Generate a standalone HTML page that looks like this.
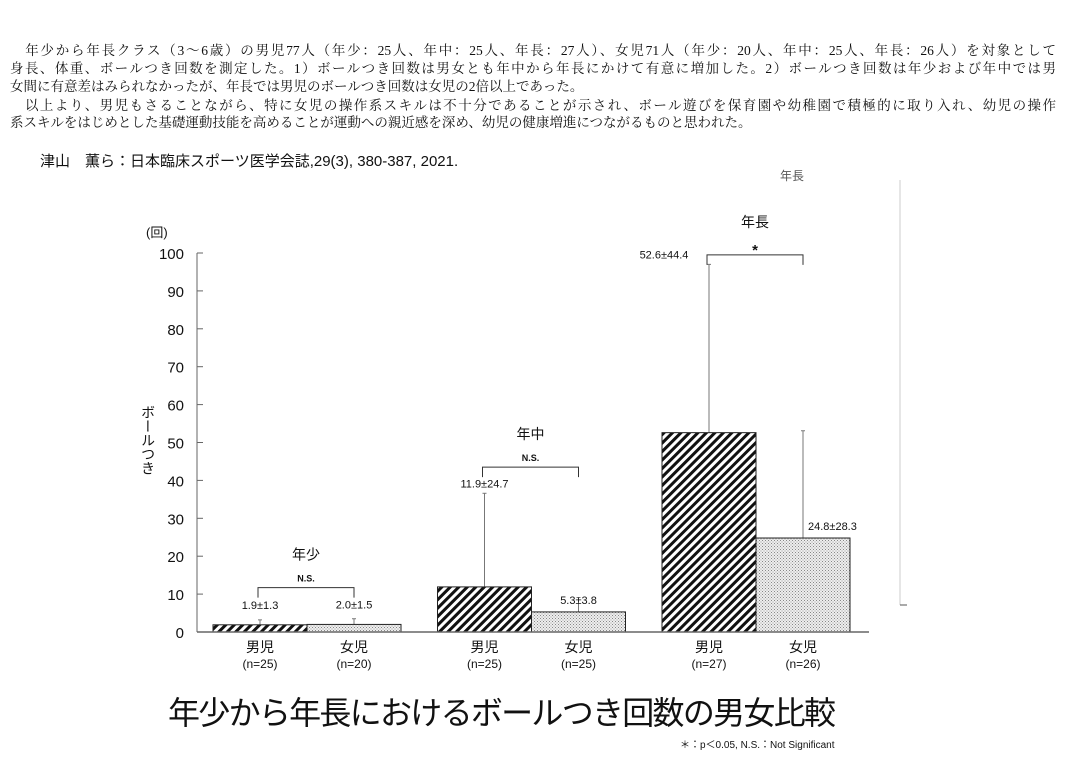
<!DOCTYPE html>
<html><head><meta charset="utf-8">
<style>
body{margin:0;width:1065px;height:759px;background:#fff;overflow:hidden;position:relative;font-family:"Liberation Sans","Noto Sans CJK JP",sans-serif;}
.p{position:absolute;left:10px;width:1046px;font-family:"Liberation Serif","Noto Serif CJK SC",serif;font-size:13.5px;line-height:17px;color:#111;white-space:nowrap;}
.j{text-align:justify;text-align-last:justify;white-space:normal;}
</style></head><body>
<div class="p j" style="top:42px">　年少から年長クラス（3～6歳）の男児77人（年少：25人、年中：25人、年長：27人）、女児71人（年少：20人、年中：25人、年長：26人）を対象として</div>
<div class="p j" style="top:60px">身長、体重、ボールつき回数を測定した。1）ボールつき回数は男女とも年中から年長にかけて有意に増加した。2）ボールつき回数は年少および年中では男</div>
<div class="p" style="top:78px">女間に有意差はみられなかったが、年長では男児のボールつき回数は女児の2倍以上であった。</div>
<div class="p j" style="top:97px">　以上より、男児もさることながら、特に女児の操作系スキルは不十分であることが示され、ボール遊びを保育園や幼稚園で積極的に取り入れ、幼児の操作</div>
<div class="p" style="top:114px">系スキルをはじめとした基礎運動技能を高めることが運動への親近感を深め、幼児の健康増進につながるものと思われた。</div>
<div style="position:absolute;left:40px;top:150px;font-size:15px;color:#111;">津山　薫ら：日本臨床スポーツ医学会誌,29(3), 380-387, 2021.</div>

<svg id="chart" width="1065" height="759" style="position:absolute;left:0;top:0">
<defs>
<pattern id="hatch" width="6" height="6" patternUnits="userSpaceOnUse" patternTransform="rotate(45)">
<rect width="6" height="6" fill="#fff"/><rect width="3" height="6" fill="#111"/></pattern>
<pattern id="dots" width="3" height="3" patternUnits="userSpaceOnUse">
<rect width="3" height="3" fill="#eee"/><rect width="1" height="1" fill="#888"/><rect x="1.5" y="1.5" width="1" height="1" fill="#999"/></pattern>
</defs>
<g id="g"></g>
<text x="780" y="180" font-size="12" fill="#555">年長</text>
<line x1="900" y1="180" x2="900" y2="605" stroke="#ccc"/>
<line x1="900" y1="605" x2="907" y2="605" stroke="#555"/>
<text x="168" y="724" font-size="32" fill="#111" textLength="668">年少から年長におけるボールつき回数の男女比較</text>
<text x="680" y="748" font-size="10" fill="#111">＊：p＜0.05,  N.S.：Not Significant</text>
</svg>
<script>
const groups=["年少","年中","年長"];
const sig=["N.S.","N.S.","*"];
const maleMean=[1.9,11.9,52.6];
const maleSD=[1.3,24.7,44.4];
const femaleMean=[2.0,5.3,24.8];
const femaleSD=[1.5,3.8,28.3];
const maleN=[25,25,27];
const femaleN=[20,25,26];
const ticks=[0,10,20,30,40,50,60,70,80,90,100];
const bracketY=[11.7,43.5,99.5];
const NS="http://www.w3.org/2000/svg";
const g=document.getElementById('g');
const y=v=>632-v*3.79;
const gx=i=>213+i*224.5;
function mk(t,a,txt){const e=document.createElementNS(NS,t);for(const k in a)e.setAttribute(k,a[k]);if(txt!=null)e.textContent=txt;g.appendChild(e);return e;}
let e;
e=mk('line',{x1:197,y1:y(100),x2:197,y2:632,stroke:'#666'});


ticks.forEach(t=>{
 e=mk('line',{x1:197,y1:y(t),x2:203,y2:y(t),stroke:'#666'});
 
 
 e=mk('text',{x:184,y:y(t)+6,'font-size':15,'text-anchor':'end',fill:'#111'},t);
 
 
});
e=mk('text',{x:146,y:237,'font-size':13,fill:'#111'},'(回)');


e=mk('text',{x:148,y:405,'font-size':14,fill:'#111','writing-mode':'tb','glyph-orientation-vertical':0},'ボールつき');


const W=94;
groups.forEach((gn,i)=>{
 const x0=gx(i);
 [[maleMean,maleSD,'url(#hatch)',maleN,'男児',0],[femaleMean,femaleSD,'url(#dots)',femaleN,'女児',1]].forEach(([m,s,f,n,lab,k])=>{
  const bx=x0+k*W, cx=bx+W/2;
  e=mk('line',{x1:cx,y1:y(m[i]),x2:cx,y2:y(m[i]+s[i]),stroke:'#777'});
  
  
  e=mk('line',{x1:cx-2,y1:y(m[i]+s[i]),x2:cx+2,y2:y(m[i]+s[i]),stroke:'#777'});
  
  
  e=mk('rect',{x:bx,y:y(m[i]),width:W,height:632-y(m[i]),fill:f,stroke:'#222','stroke-width':1});
  
  
  const ty=(k==0&&i>0)?y(m[i]+s[i])-6:y(m[i])-(i==0?16:8);
  const tx=(k==0&&i==2)?cx-45:(k==1&&i==2?cx+5:cx);
  e=mk('text',{x:tx,y:ty,'font-size':11,'text-anchor':(k==1&&i==2)?'start':'middle',fill:'#111'},m[i].toFixed(1)+'±'+s[i].toFixed(1));
  
  
  e=mk('text',{x:cx,y:652,'font-size':14,'text-anchor':'middle',fill:'#111'},lab);
  
  
  e=mk('text',{x:cx,y:668,'font-size':12,'text-anchor':'middle',fill:'#111'},'(n='+n[i]+')');
  
  
 });
 const c1=x0+W/2-2,c2=x0+W*1.5, by=y(bracketY[i]);
 e=mk('path',{d:`M${c1},${by+10}V${by}H${c2}V${by+10}`,fill:'none',stroke:'#333'});
 
 
 e=mk('text',{x:(c1+c2)/2,y:by-(sig[i]=='*'?0:6),'font-size':sig[i]=='*'?15:9,'font-weight':'bold','text-anchor':'middle',fill:'#111'},sig[i]);
 
 
 e=mk('text',{x:(c1+c2)/2,y:by-28,'font-size':14,'text-anchor':'middle',fill:'#111'},gn);
 
 
});
e=mk('line',{x1:197,y1:632,x2:869,y2:632,stroke:'#666','stroke-width':1.5});


</script>
</body></html>
